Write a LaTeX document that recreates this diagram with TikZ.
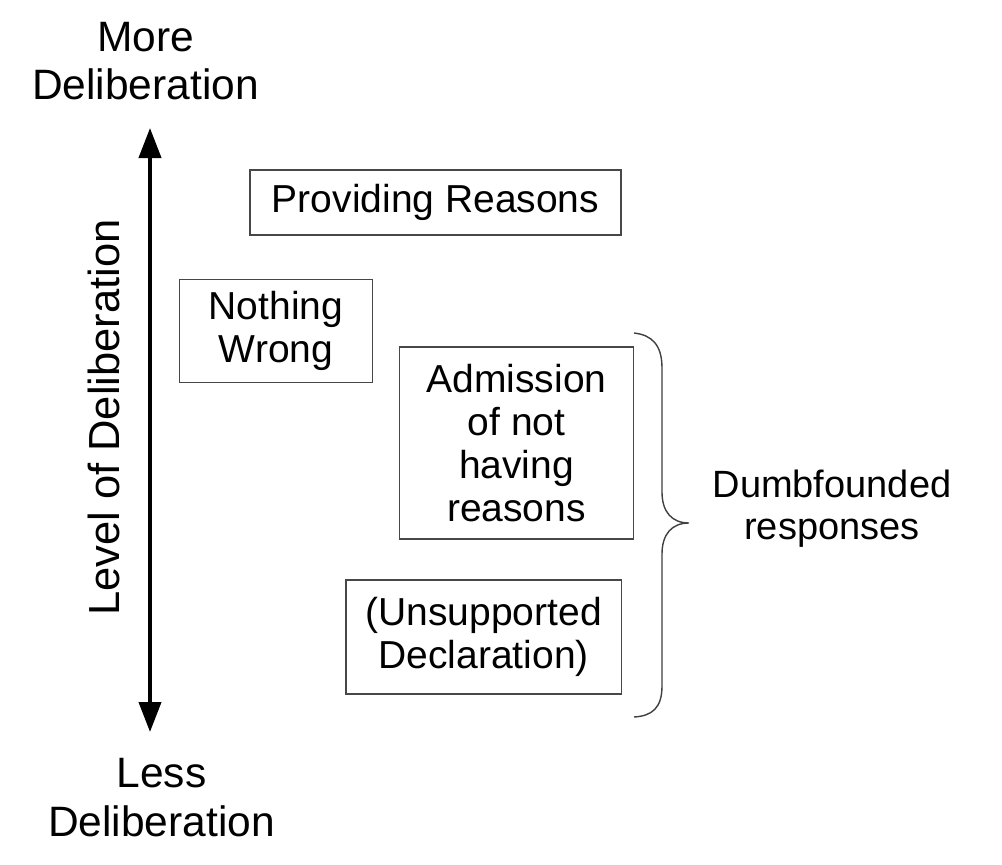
\documentclass[tikz,border=0pt]{standalone}
\usepackage{fontspec}
\setmainfont{Liberation Sans}
\usetikzlibrary{arrows.meta}
\begin{document}
\begin{tikzpicture}[x=1pt,y=-1pt,
  box/.style={draw=black!72, line width=1.4pt, align=center, inner sep=0pt,
    font=\fontsize{39}{43}\selectfont},
  lbl/.style={align=center, inner sep=0pt, font=\fontsize{42.5}{48.5}\selectfont},
  side/.style={align=center, inner sep=0pt, font=\fontsize{38}{42}\selectfont},
  axis/.style={line width=4pt, {Triangle[length=30pt,width=22pt]}-{Triangle[length=30pt,width=22pt]}},
  bracepath/.style={draw=black!75, line width=1.4pt}]
\useasboundingbox (0,0) rectangle (1002,865);
\fill[white] (0,0) rectangle (1002,865);

\node[lbl] (more) at (145.5,61) {More\\Deliberation};
\node[lbl] (less) at (161.5,797.5) {Less\\Deliberation};

\coordinate (atop) at (150,128);
\coordinate (abot) at (150,732);
\draw[axis] (abot) -- (atop);
\node[lbl, rotate=90, anchor=base, font=\fontsize{43.5}{48}\selectfont] (level) at (119,417.5) {Level of Deliberation};

\node[box, minimum width=371pt, minimum height=65pt] (prov) at (435.5,202.5) {Providing Reasons};
\node[box, minimum width=193pt, minimum height=103pt] (noth) at (276,331) {Nothing\\Wrong};
\node[box, minimum width=234pt, minimum height=192pt] (adm) at (516.5,443) {Admission\\of not\\having\\reasons};
\node[box, minimum width=275.5pt, minimum height=114pt] (uns) at (483.75,637) {(Unsupported\\Declaration)};

\coordinate (btop) at (634,333);
\coordinate (btip) at (689,523);
\coordinate (bbot) at (634,717);
\draw[bracepath] (btop) .. controls (652,335) and (662,345) .. (662,368)
  -- (662,492) .. controls (662,512) and (672,523) .. (btip)
  .. controls (672,523) and (662,534) .. (662,554)
  -- (662,686) .. controls (662,708) and (652,716) .. (bbot);

\node[side] (dumb) at (832,509) {Dumbfounded\\responses};
\end{tikzpicture}
\end{document}
